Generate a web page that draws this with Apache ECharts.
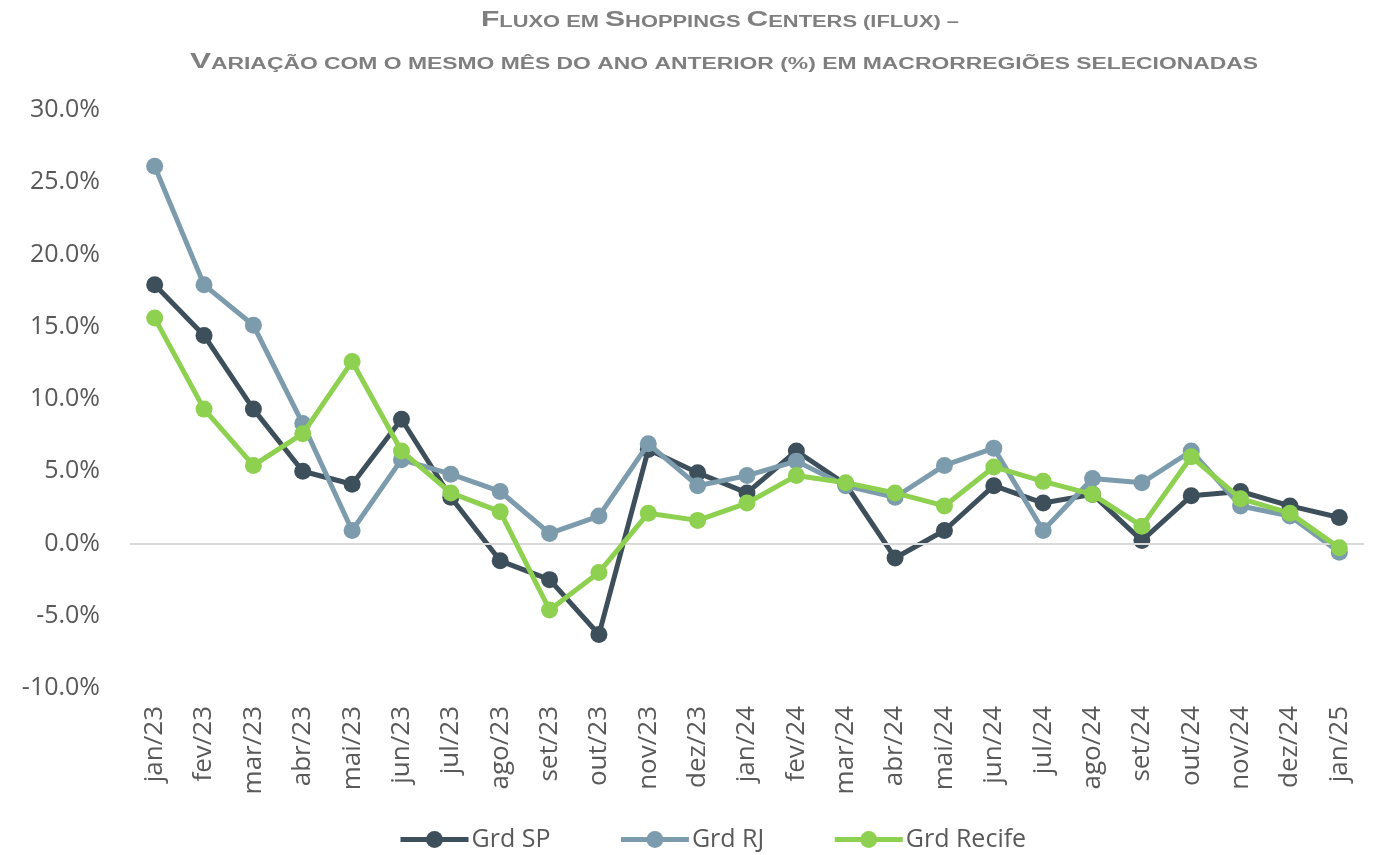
<!DOCTYPE html>
<html>
<head>
<meta charset="utf-8">
<script src="https://cdn.jsdelivr.net/npm/echarts@6/dist/echarts.min.js"></script>
<style>
html,body{margin:0;padding:0;background:#fff;}
#chart{width:1376px;height:855px;}
</style>
</head>
<body>
<div id="chart"></div>
<script>
const categories = ['jan/23','fev/23','mar/23','abr/23','mai/23','jun/23','jul/23','ago/23','set/23','out/23','nov/23','dez/23','jan/24','fev/24','mar/24','abr/24','mai/24','jun/24','jul/24','ago/24','set/24','out/24','nov/24','dez/24','jan/25'];
const grdSP = [17.9,14.4,9.3,5.0,4.1,8.6,3.2,-1.2,-2.5,-6.3,6.5,4.9,3.5,6.4,4.1,-1.0,0.9,4.0,2.8,3.4,0.2,3.3,3.6,2.6,1.8];
const grdRJ = [26.1,17.9,15.1,8.3,0.9,5.8,4.8,3.6,0.7,1.9,6.9,4.0,4.7,5.7,4.0,3.2,5.4,6.6,0.9,4.5,4.2,6.4,2.6,1.9,-0.6];
const grdRecife = [15.6,9.3,5.4,7.6,12.6,6.4,3.5,2.2,-4.6,-2.0,2.1,1.6,2.8,4.7,4.2,3.5,2.6,5.3,4.3,3.4,1.2,6.0,3.1,2.1,-0.3];
const seriesNames = ['Grd SP','Grd RJ','Grd Recife'];
const yTicks = {min:-10, max:30, interval:5};
// title pieces: [text, isBigCap]
const titleLine1 = [['F',1],['LUXO EM ',0],['S',1],['HOPPINGS ',0],['C',1],['ENTERS (IFLUX) –',0]];
const titleLine2 = [['V',1],['ARIAÇÃO COM O MESMO MÊS DO ANO ANTERIOR (%) EM MACRORREGIÕES SELECIONADAS',0]];

const colors = ['#3D4F5A','#7C9CAD','#8ED04F'];
const bigFont = 22, smallFont = 16, titleFamily = '"Liberation Sans", Arial, sans-serif';
const titleColor = '#7F7F7F';

const cv = document.createElement('canvas').getContext('2d');
function measure(parts){
  let w = 0;
  parts.forEach(p=>{
    cv.font = 'bold ' + (p[1]?bigFont:smallFont) + 'px ' + titleFamily;
    w += cv.measureText(p[0]).width;
  });
  return w;
}
function richText(parts){
  return parts.map(p=>'{' + (p[1]?'b':'s') + '|' + p[0] + '}').join('');
}
const rich = {
  b:{fontSize:bigFont, fontWeight:'bold', fontFamily:titleFamily, fill:titleColor, verticalAlign:'bottom', lineHeight:24},
  s:{fontSize:smallFont, fontWeight:'bold', fontFamily:titleFamily, fill:titleColor, verticalAlign:'bottom', lineHeight:24}
};
const sx1 = 478 / measure(titleLine1);
const sx2 = 1068 / measure(titleLine2);

const chart = echarts.init(document.getElementById('chart'), null, {renderer:'canvas'});
const lineSeries = [grdSP, grdRJ, grdRecife].map((d,i)=>({
  name: seriesNames[i],
  type: 'line',
  data: d,
  symbol: 'circle',
  symbolSize: 17,
  lineStyle: {width: 5, color: colors[i]},
  itemStyle: {color: colors[i]},
  z: 3 + i
}));
lineSeries.unshift({
  name: 'zero',
  type: 'line',
  data: [],
  z: 1,
  silent: true,
  markLine: {
    silent: true,
    symbol: ['none','none'],
    label: {show:false},
    lineStyle: {color:'#D9D9D9', width:2, type:'solid'},
    data: [{yAxis: 0}]
  }
});

chart.setOption({
  animation: false,
  color: colors,
  grid: {left:130, right:12, top:110, bottom:167, containLabel:false},
  graphic: [
    {type:'text', x:720, y:19, scaleX:sx1, style:{text:richText(titleLine1), rich:rich, fill:titleColor, align:'center', verticalAlign:'middle'}},
    {type:'text', x:724, y:61, scaleX:sx2, style:{text:richText(titleLine2), rich:rich, fill:titleColor, align:'center', verticalAlign:'middle'}}
  ],
  legend: {
    data: seriesNames,
    top: 822,
    left: 393,
    itemWidth: 68,
    itemHeight: 21,
    itemGap: 68,
    lineStyle: {width: 5},
    textStyle: {fontSize:25, color:'#595959', fontFamily:'"Open Sans", sans-serif', padding:[0,0,0,-2]}
  },
  xAxis: {
    type: 'category',
    data: categories,
    boundaryGap: true,
    axisLine: {show:false, onZero:false},
    axisTick: {show:false},
    axisLabel: {rotate:90, fontSize:26, color:'#595959', margin:18, fontFamily:'"Open Sans", sans-serif', interval:0}
  },
  yAxis: {
    type: 'value',
    min: yTicks.min, max: yTicks.max, interval: yTicks.interval,
    axisLine: {show:false},
    axisTick: {show:false},
    splitLine: {show:false},
    axisLabel: {fontSize:25, color:'#595959', margin:30, fontFamily:'"Open Sans", sans-serif', formatter: v => v.toFixed(1) + '%'}
  },
  series: lineSeries
});
</script>
</body>
</html>
